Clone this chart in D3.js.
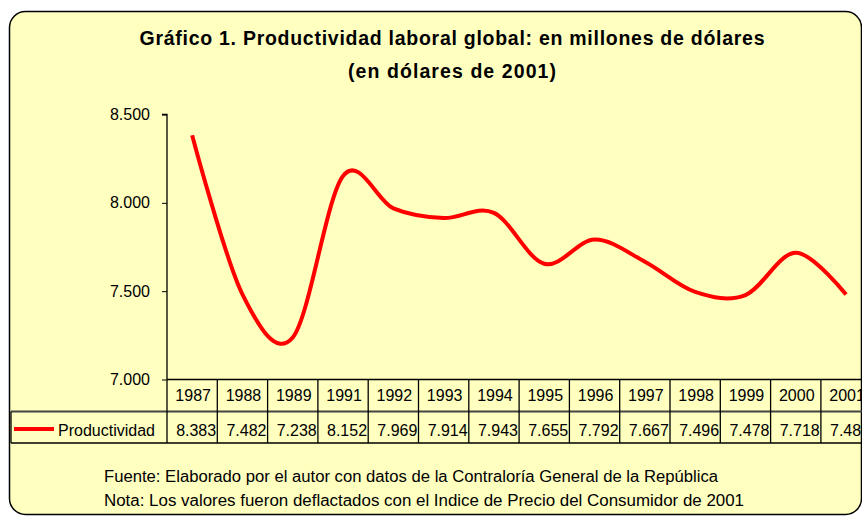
<!DOCTYPE html>
<html>
<head>
<meta charset="utf-8">
<script src="https://cdn.jsdelivr.net/npm/d3@7"></script>
<style>
  html, body { margin: 0; padding: 0; background: #ffffff; }
  svg { display: block; }
  text { font-family: "Liberation Sans", Arial, sans-serif; fill: #000; }
</style>
</head>
<body>
<svg id="chart" width="862" height="516"></svg>
<script>
// ---- data ----
const years = ["1987","1988","1989","1991","1992","1993","1994","1995","1996","1997","1998","1999","2000","2001"];
const productividad = [8383, 7482, 7238, 8152, 7969, 7914, 7943, 7655, 7792, 7667, 7496, 7478, 7718, 7481];
const valueLabels = ["8.383","7.482","7.238","8.152","7.969","7.914","7.943","7.655","7.792","7.667","7.496","7.478","7.718","7.481"];
const yTicks = [7000, 7500, 8000, 8500];
const yTickLabels = ["7.000","7.500","8.000","8.500"];
const seriesName = "Productividad";
const titleLines = ["Gráfico 1. Productividad laboral global: en millones de dólares", "(en dólares de 2001)"];
const notes = ["Fuente: Elaborado por el autor con datos de la Contraloría General de la República",
               "Nota: Los valores fueron deflactados con el Indice de Precio del Consumidor de 2001"];

// ---- layout ----
const svg = d3.select("#chart");
const bg = "#FFFFC0";
const red = "#FF0000";

const plotLeft = 167, colW = 50.3;
const plotTop = 114.5, plotBottom = 379.5;
const rowMid = 411.5, rowBottom = 443;
const legendLeft = 11;

// chart area frame (right edge cropped)
svg.append("rect")
  .attr("x", 9.5).attr("y", 11.5)
  .attr("width", 852).attr("height", 503)
  .attr("rx", 16).attr("ry", 16)
  .attr("fill", bg).attr("stroke", "#000").attr("stroke-width", 1.5);

const x = d3.scaleBand().domain(years).range([plotLeft, plotLeft + colW * years.length]).padding(0);
const y = d3.scaleLinear().domain([7000, 8500]).range([plotBottom, plotTop]);

// title
svg.append("g").selectAll("text").data(titleLines).join("text")
  .attr("x", 452).attr("y", (d, i) => 45 + i * 33)
  .attr("text-anchor", "middle")
  .attr("font-weight", "bold").attr("font-size", 19.5)
  .attr("textLength", (d, i) => i === 0 ? 625 : 208)
  .attr("lengthAdjust", "spacing")
  .text(d => d);

// y axis
const yAxis = d3.axisLeft(y).tickValues(yTicks)
  .tickFormat((d, i) => yTickLabels[i]).tickSize(5).tickPadding(12);
const gy = svg.append("g").attr("transform", `translate(${plotLeft},0)`).call(yAxis);
gy.select(".domain").attr("stroke", "#000").attr("stroke-width", 1.3)
  .attr("d", `M-5,${plotTop}H0V${plotBottom}`);
gy.selectAll(".tick line").attr("stroke", "#000");
gy.selectAll(".tick text").attr("font-size", 16).attr("font-family", "Liberation Sans, Arial, sans-serif").attr("fill", "#000");

// data table
const tbl = svg.append("g");
const xEnd = plotLeft + colW * years.length;
tbl.append("line").attr("x1", plotLeft).attr("x2", xEnd).attr("y1", plotBottom).attr("y2", plotBottom)
  .attr("stroke", "#000").attr("stroke-width", 1.3);
tbl.append("line").attr("x1", legendLeft).attr("x2", xEnd).attr("y1", rowMid).attr("y2", rowMid)
  .attr("stroke", "#444").attr("stroke-width", 2);
tbl.append("line").attr("x1", legendLeft).attr("x2", xEnd).attr("y1", rowBottom).attr("y2", rowBottom)
  .attr("stroke", "#000").attr("stroke-width", 1.3);
tbl.append("line").attr("x1", legendLeft).attr("x2", legendLeft).attr("y1", rowMid).attr("y2", rowBottom)
  .attr("stroke", "#000").attr("stroke-width", 1.3);
tbl.selectAll("line.v").data(years).join("line").attr("class", "v")
  .attr("x1", d => x(d)).attr("x2", d => x(d))
  .attr("y1", plotBottom).attr("y2", rowBottom)
  .attr("stroke", "#000").attr("stroke-width", 1.3);
tbl.selectAll("text.yr").data(years).join("text").attr("class", "yr")
  .attr("x", d => x(d) + x.bandwidth() / 2 + 1).attr("y", 401)
  .attr("text-anchor", "middle").attr("font-size", 16).text(d => d);
tbl.selectAll("text.val").data(valueLabels).join("text").attr("class", "val")
  .attr("x", (d, i) => x(years[i]) + x.bandwidth() / 2 + 4).attr("y", 436)
  .attr("text-anchor", "middle").attr("font-size", 16).text(d => d);
// legend key
tbl.append("line").attr("x1", 14).attr("x2", 54).attr("y1", 429).attr("y2", 429)
  .attr("stroke", red).attr("stroke-width", 4);
tbl.append("text").attr("x", 58).attr("y", 436).attr("font-size", 16).text(seriesName);

// line
const line = d3.line()
  .x((d, i) => x(years[i]) + x.bandwidth() / 2)
  .y(d => y(d))
  .curve(d3.curveCardinal.tension(0));
svg.append("path").datum(productividad)
  .attr("d", line)
  .attr("fill", "none").attr("stroke", red).attr("stroke-width", 4)
  .attr("stroke-linejoin", "round");

// notes
svg.append("g").selectAll("text").data(notes).join("text")
  .attr("x", 104).attr("y", (d, i) => 482 + i * 24)
  .attr("font-size", 16)
  .attr("font-family", "'Liberation Sans Narrow', 'DejaVu Sans Condensed', Arial, sans-serif")
  .attr("textLength", (d, i) => i === 0 ? 614 : 640)
  .attr("lengthAdjust", "spacingAndGlyphs")
  .text(d => d);
</script>
</body>
</html>
